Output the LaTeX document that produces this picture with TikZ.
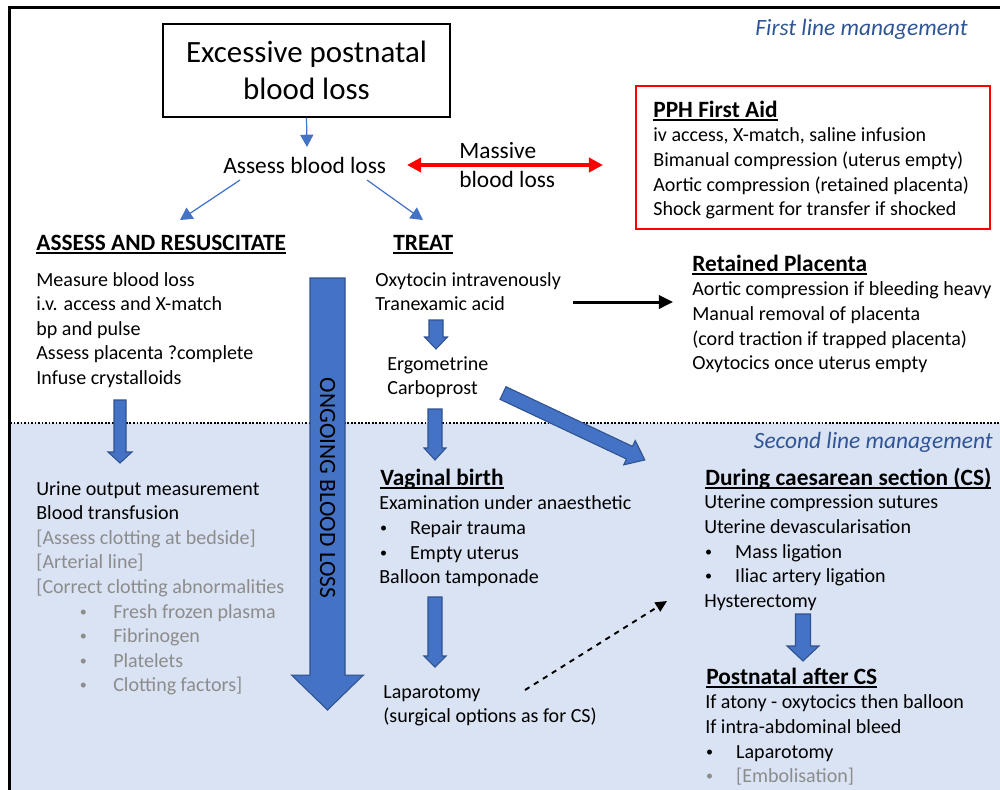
\documentclass[tikz,border=0pt]{standalone}
\usepackage{fontspec}
\setmainfont{Carlito}
\usetikzlibrary{arrows.meta,calc}

\definecolor{arrblue}{HTML}{4472C4}
\definecolor{arrline}{HTML}{2F528F}
\definecolor{band}{HTML}{DAE3F3}
\definecolor{labblue}{HTML}{2F5597}
\definecolor{textgray}{HTML}{8C8C8C}

\newsavebox\ulbox
\newcommand\hdul[1]{\sbox\ulbox{#1}\rlap{\rule[-2.2pt]{\wd\ulbox}{0.9pt}}\usebox\ulbox}
\newcommand\bul[2]{\makebox[#2][l]{\hspace*{#1}\raisebox{1.1pt}{\fontsize{8}{8}\selectfont\textbullet}}}
\newcommand\gry[1]{\textcolor{textgray}{#1}}
\newcommand\txtlines[1]{\begin{tabular}[t]{@{}l@{}}#1\end{tabular}}

% block arrow: from, to, shaft, head width, head length (px)
\newcommand\blockarrow[5]{%
  \path let \p1=($(#2)-(#1)$) in \pgfextra{%
    \pgfmathsetmacro\baang{atan2(\y1,\x1)}\xdef\baang{\baang}%
    \pgfmathsetmacro\balen{veclen(\x1,\y1)}\xdef\balen{\balen}};
  \begin{scope}[shift={(#1)},rotate=\baang,x=1pt,y=1pt]
    \pgfmathsetmacro\baS{#3*0.569/2}\pgfmathsetmacro\baH{#4*0.569/2}%
    \pgfmathsetmacro\baL{\balen-#5*0.569}%
    \filldraw[blockarr] (0,-\baS) -- (\baL,-\baS) -- (\baL,-\baH) -- (\balen,0)
      -- (\baL,\baH) -- (\baL,\baS) -- (0,\baS) -- cycle;
  \end{scope}}

\begin{document}
\begin{tikzpicture}[x=0.02cm,y=-0.02cm,
    body/.style={font={\fontsize{11.4}{14}\selectfont},anchor=base west,inner sep=0pt},
    head/.style={font={\fontsize{13.3}{16}\selectfont\bfseries},anchor=base west,inner sep=0pt},
    big/.style={font={\fontsize{13.3}{17}\selectfont},inner sep=0pt},
    italab/.style={font={\fontsize{13.3}{16}\selectfont\itshape},text=labblue,anchor=base east,inner sep=0pt},
    titlebox/.style={draw,line width=0.8pt,minimum width=163.3pt,minimum height=52.9pt,
      align=center,font={\fontsize{17.6}{21}\selectfont},inner sep=0pt},
    thinarr/.style={draw=arrblue,line width=0.7pt,-{Triangle[length=7pt,width=7.5pt]}},
    blockarr/.style={fill=arrblue,draw=arrline,line width=0.6pt},
    redarr/.style={draw=red,line width=2.3pt,
      {Triangle[length=8pt,width=8pt]}-{Triangle[length=8pt,width=8pt]}},
    blackarr/.style={line width=1.7pt,-{Triangle[length=8pt,width=7.5pt]}},
    dasharr/.style={line width=1.1pt,dashed,-{Triangle[length=6.5pt,width=6pt]}}]
  \useasboundingbox (0,0) rectangle (1000,789);
  \clip (0,0) rectangle (1000,789);

  % frame and second line band
  \fill[band] (10,423) rectangle (1010,800);
  \draw[line width=0.8pt,dash pattern=on 1pt off 1pt] (10,423) -- (1000,423);
  \draw[line width=1.2pt] (9.5,800) |- (1010,7.5);

  \node[italab] (first) at (968,35) {First line management};
  \node[italab] (second) at (993,448) {Second line management};

  % top
  \node[titlebox] (title) at (306.5,70.5) {Excessive postnatal\\blood loss};
  \node[big,anchor=base west] (assess) at (223,173) {Assess blood loss};
  \node[big,anchor=base west] (massive) at (459,158) {\txtlines{Massive\\blood loss}};

  \coordinate (a1) at (307,147);
  \coordinate (a2) at (240,180);
  \coordinate (a3) at (180,220);
  \coordinate (a4) at (367,180);
  \coordinate (a5) at (423,220);
  \draw[thinarr] (title.south) -- (a1);
  \draw[thinarr] (a2) -- (a3);
  \draw[thinarr] (a4) -- (a5);

  \coordinate (mL) at (407,165);
  \coordinate (mR) at (603,165);
  \draw[redarr] (mL) -- (mR);

  % PPH first aid
  \draw[red,line width=0.9pt] (636,86) rectangle (990,229);
  \node[head] (pphhead) at (653,117) {\hdul{PPH First Aid}};
  \node[body] (pph) at ([yshift=-14.2pt]pphhead.base west)
    {\txtlines{iv access, X-match, saline infusion\\Bimanual compression (uterus empty)\\
     Aortic compression (retained placenta)\\Shock garment for transfer if shocked}};

  % assess and resuscitate
  \node[head] (resushead) at (36,250) {\hdul{ASSESS AND RESUSCITATE}};
  \node[body] (resus) at (36,286)
    {\txtlines{Measure blood loss\\i.v. access and X-match\\bp and pulse\\
     Assess placenta ?complete\\Infuse crystalloids}};
  \node[body] (urine) at (36,495)
    {\txtlines{Urine output measurement\\Blood transfusion\\
     \gry{[Assess clotting at bedside]}\\\gry{[Arterial line]}\\
     \gry{[Correct clotting abnormalities}\\
     \gry{\bul{24.8pt}{43.8pt}Fresh frozen plasma}\\
     \gry{\bul{24.8pt}{43.8pt}Fibrinogen}\\
     \gry{\bul{24.8pt}{43.8pt}Platelets}\\
     \gry{\bul{24.8pt}{43.8pt}Clotting factors]}}};
  \coordinate (r1) at (120,400);
  \coordinate (r2) at (120,463);
  \blockarrow{r1}{r2}{12}{24}{11}

  % ongoing blood loss
  \coordinate (o1) at (327.5,278);
  \coordinate (o2) at (327.5,710);
  \blockarrow{o1}{o2}{35}{72}{35}
  \node[big,rotate=-90] (ongoing) at (327.5,488) {ONGOING BLOOD LOSS};

  % treat
  \node[head] (treathead) at (393,250) {\hdul{TREAT}};
  \node[body] (treat) at (375,286) {\txtlines{Oxytocin intravenously\\Tranexamic acid}};
  \node[body] (ergo) at (387,370) {\txtlines{Ergometrine\\Carboprost}};
  \coordinate (t1) at (436,320);
  \coordinate (t2) at (436,349);
  \blockarrow{t1}{t2}{14}{23}{12}
  \coordinate (e1) at (435,409);
  \coordinate (e2) at (435,460);
  \blockarrow{e1}{e2}{14}{22}{12}
  \coordinate (d1) at (503,393);
  \coordinate (d2) at (645,460);
  \blockarrow{d1}{d2}{14}{27}{17}

  % retained placenta
  \node[head] (rethead) at (692,271) {\hdul{Retained Placenta}};
  \node[body] (ret) at ([yshift=-14.2pt]rethead.base west)
    {\txtlines{Aortic compression if bleeding heavy\\Manual removal of placenta\\
     (cord traction if trapped placenta)\\Oxytocics once uterus empty}};
  \coordinate (k1) at (573,302);
  \coordinate (k2) at (673,302);
  \draw[blackarr] (k1) -- (k2);

  % vaginal birth
  \node[head] (vaghead) at (380,485) {\hdul{Vaginal birth}};
  \node[body] (vag) at ([yshift=-14.2pt,xshift=-0.6pt]vaghead.base west)
    {\txtlines{Examination under anaesthetic\\\bul{0.5pt}{17.6pt}Repair trauma\\
     \bul{0.5pt}{17.6pt}Empty uterus\\Balloon tamponade}};
  \coordinate (v1) at (435,597);
  \coordinate (v2) at (435,667);
  \blockarrow{v1}{v2}{14}{22}{11}
  \node[body] (lap) at (383,698) {\txtlines{Laparotomy\\(surgical options as for CS)}};
  \coordinate (l1) at (525,690);
  \coordinate (l2) at (667,601);
  \draw[dasharr] (l1) -- (l2);

  % caesarean section
  \node[head] (cshead) at (705,485) {\hdul{During caesarean section (CS)}};
  \node[body] (cs) at ([yshift=-13.6pt,xshift=-0.6pt]cshead.base west)
    {\txtlines{Uterine compression sutures\\Uterine devascularisation\\
     \bul{0.5pt}{17.6pt}Mass ligation\\\bul{0.5pt}{17.6pt}Iliac artery ligation\\Hysterectomy}};
  \coordinate (c1) at (803,614);
  \coordinate (c2) at (803,661);
  \blockarrow{c1}{c2}{15}{32}{15}
  \node[head] (pnhead) at (706,684) {\hdul{Postnatal after CS}};
  \node[body] (pn) at ([yshift=-14.2pt,xshift=-0.6pt]pnhead.base west)
    {\txtlines{If atony - oxytocics then balloon\\If intra-abdominal bleed\\
     \bul{0.5pt}{17.6pt}Laparotomy\\\gry{\bul{0.5pt}{17.6pt}[Embolisation]}}};
\end{tikzpicture}
\end{document}
